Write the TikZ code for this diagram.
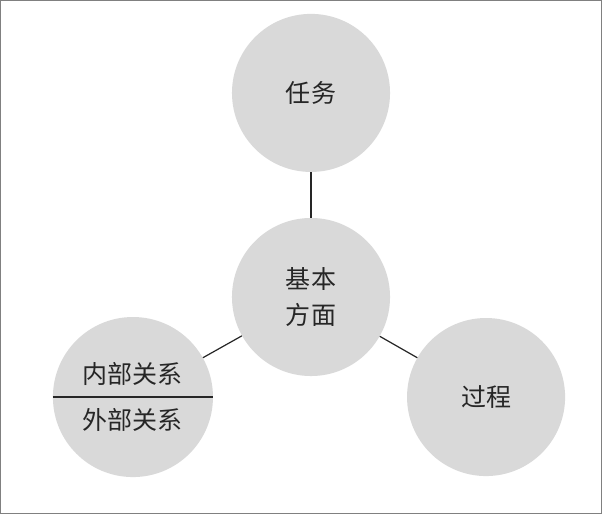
\documentclass[tikz,border=0pt]{standalone}
\usepackage{fontspec}
\newfontfamily\cjk{Noto Sans CJK SC}
\begin{document}
\begin{tikzpicture}[x=1pt,y=-1pt,
  bub/.style={circle,fill=black!15,minimum size=158pt,inner sep=0pt,font=\cjk\fontsize{25}{36}\selectfont,align=center,text=black!85},
  link/.style={draw=black!85,line width=1.2pt}]
\draw[draw=black!50,line width=0.8pt,fill=white] (0.5,0.5) rectangle (601.5,513.5);
\node[bub] (t) at (311,93) {任务};
\node[bub] (c) at (311,297) {基本\\方面};
\node[bub,minimum size=160pt] (l) at (133,397) {};
\node[bub] (r) at (486,397) {过程};
\node[font=\cjk\fontsize{25}{30}\selectfont,text=black!85] (l1) at (133,374) {内部关系};
\node[font=\cjk\fontsize{25}{30}\selectfont,text=black!85] (l2) at (133,420) {外部关系};
\coordinate (la) at (53,397);
\coordinate (lb) at (213,397);
\draw[link] (la) -- (lb);
\draw[link] (t) -- (c);
\draw[link] (c) -- (l);
\draw[link] (c) -- (r);
\end{tikzpicture}
\end{document}
